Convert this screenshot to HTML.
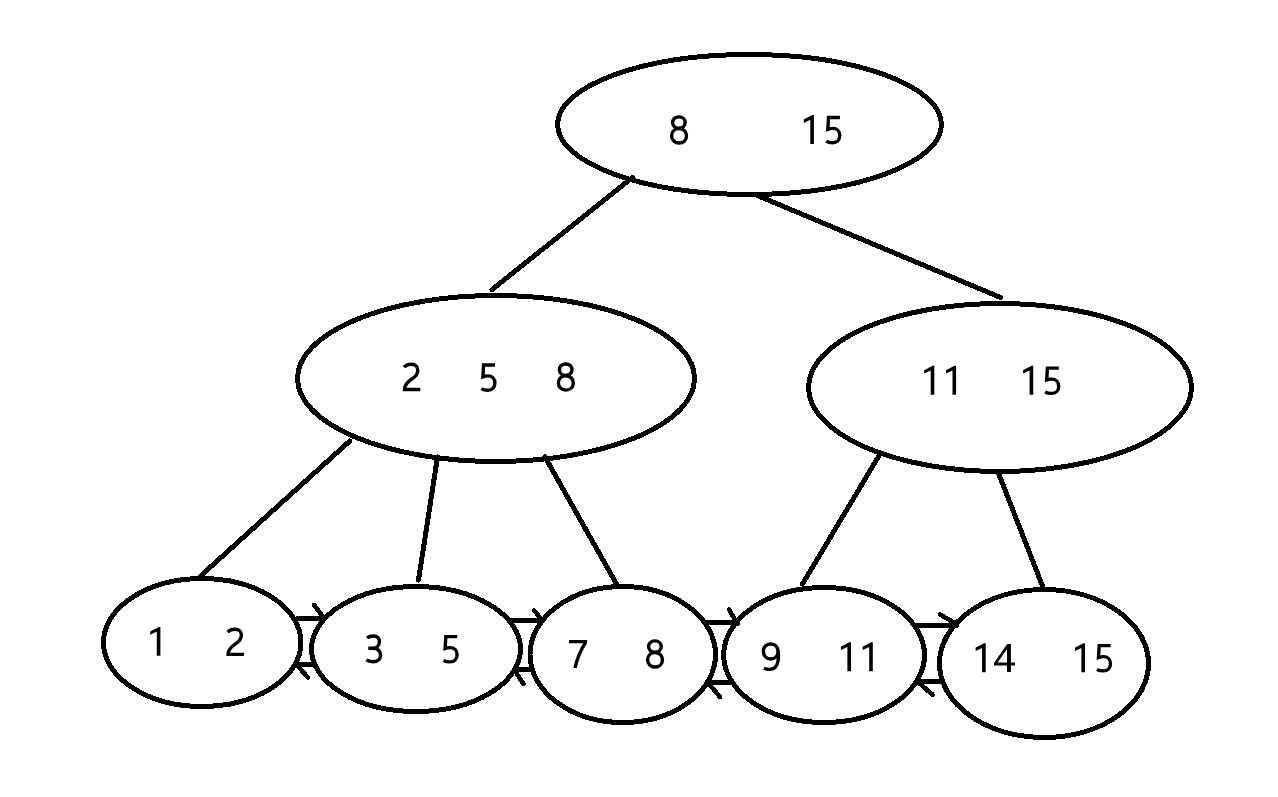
<!DOCTYPE html>
<html><head><meta charset="utf-8"><title>B+ tree</title><style>
html,body{margin:0;padding:0;background:#fff;overflow:hidden;}
svg{display:block;}
</style></head><body>
<svg width="1278" height="797" viewBox="0 0 1278 797">
<rect width="1278" height="797" fill="#fff"/>
<ellipse cx="749.50" cy="124.50" rx="192.00" ry="70.00" fill="none" stroke="#000" stroke-width="5" shape-rendering="crispEdges"/>
<ellipse cx="496.00" cy="378.50" rx="198.50" ry="83.00" fill="none" stroke="#000" stroke-width="5" shape-rendering="crispEdges"/>
<ellipse cx="1000.00" cy="387.50" rx="191.50" ry="84.00" fill="none" stroke="#000" stroke-width="5" shape-rendering="crispEdges"/>
<ellipse cx="202.25" cy="642.50" rx="98.75" ry="64.00" fill="none" stroke="#000" stroke-width="5" shape-rendering="crispEdges"/>
<ellipse cx="416.00" cy="649.00" rx="104.50" ry="62.50" fill="none" stroke="#000" stroke-width="5" shape-rendering="crispEdges"/>
<ellipse cx="622.75" cy="654.50" rx="92.75" ry="68.00" fill="none" stroke="#000" stroke-width="5" shape-rendering="crispEdges"/>
<ellipse cx="824.10" cy="655.00" rx="100.40" ry="67.50" fill="none" stroke="#000" stroke-width="5" shape-rendering="crispEdges"/>
<ellipse cx="1044.00" cy="663.50" rx="104.50" ry="74.00" fill="none" stroke="#000" stroke-width="5" shape-rendering="crispEdges"/>
<line x1="632.5" y1="177.5" x2="492" y2="289.6" stroke="#000" stroke-width="5" stroke-linecap="round" shape-rendering="crispEdges"/>
<line x1="755" y1="194.5" x2="1000.5" y2="297.5" stroke="#000" stroke-width="5" stroke-linecap="round" shape-rendering="crispEdges"/>
<line x1="349.8" y1="441" x2="200.5" y2="576" stroke="#000" stroke-width="5" stroke-linecap="round" shape-rendering="crispEdges"/>
<line x1="437.5" y1="457" x2="418.5" y2="580" stroke="#000" stroke-width="5" stroke-linecap="round" shape-rendering="crispEdges"/>
<line x1="545" y1="457" x2="616.5" y2="584" stroke="#000" stroke-width="5" stroke-linecap="round" shape-rendering="crispEdges"/>
<line x1="880" y1="454" x2="802.5" y2="584" stroke="#000" stroke-width="5" stroke-linecap="round" shape-rendering="crispEdges"/>
<line x1="998" y1="472" x2="1042.5" y2="586" stroke="#000" stroke-width="5" stroke-linecap="round" shape-rendering="crispEdges"/>
<line x1="296.7" y1="618.5" x2="323" y2="618.5" stroke="#000" stroke-width="4.6" stroke-linecap="round" shape-rendering="crispEdges"/>
<line x1="314" y1="605" x2="323.5" y2="617.5" stroke="#000" stroke-width="4.6" stroke-linecap="round" shape-rendering="crispEdges"/>
<line x1="295" y1="664.5" x2="314" y2="664.5" stroke="#000" stroke-width="4.6" stroke-linecap="round" shape-rendering="crispEdges"/>
<line x1="296.3" y1="664.5" x2="308" y2="677.5" stroke="#000" stroke-width="4.6" stroke-linecap="round" shape-rendering="crispEdges"/>
<line x1="510" y1="620.5" x2="543" y2="620.5" stroke="#000" stroke-width="4.6" stroke-linecap="round" shape-rendering="crispEdges"/>
<line x1="534.3" y1="610.5" x2="542.6" y2="621" stroke="#000" stroke-width="4.6" stroke-linecap="round" shape-rendering="crispEdges"/>
<line x1="514.5" y1="669.4" x2="530.7" y2="669.4" stroke="#000" stroke-width="4.6" stroke-linecap="round" shape-rendering="crispEdges"/>
<line x1="514" y1="669.4" x2="523.5" y2="684" stroke="#000" stroke-width="4.6" stroke-linecap="round" shape-rendering="crispEdges"/>
<line x1="704.8" y1="622.5" x2="737.5" y2="622.5" stroke="#000" stroke-width="4.6" stroke-linecap="round" shape-rendering="crispEdges"/>
<line x1="729" y1="609.5" x2="737.5" y2="624" stroke="#000" stroke-width="4.6" stroke-linecap="round" shape-rendering="crispEdges"/>
<line x1="708" y1="682.4" x2="730.7" y2="682.4" stroke="#000" stroke-width="4.6" stroke-linecap="round" shape-rendering="crispEdges"/>
<line x1="707.9" y1="682.4" x2="720" y2="697" stroke="#000" stroke-width="4.6" stroke-linecap="round" shape-rendering="crispEdges"/>
<line x1="914.5" y1="625.4" x2="957" y2="625.4" stroke="#000" stroke-width="4.6" stroke-linecap="round" shape-rendering="crispEdges"/>
<line x1="940" y1="614.5" x2="955" y2="623" stroke="#000" stroke-width="4.6" stroke-linecap="round" shape-rendering="crispEdges"/>
<line x1="917" y1="681.7" x2="941" y2="681.7" stroke="#000" stroke-width="4.6" stroke-linecap="round" shape-rendering="crispEdges"/>
<line x1="917.5" y1="681.7" x2="932.7" y2="694.8" stroke="#000" stroke-width="4.6" stroke-linecap="round" shape-rendering="crispEdges"/>
<g role="img" aria-label="8"><title>8</title>
<path transform="translate(670,115.3)" d="M8.9 1.6 C12.6 1.6 15.2 3.9 15.2 7.3 C15.2 10.7 12.6 13.0 8.9 13.0 C5.2 13.0 2.6 10.7 2.6 7.3 C2.6 3.9 5.2 1.6 8.9 1.6 Z M9.05 13.3 C13.3 13.3 16.5 16.3 16.5 20.5 C16.5 24.7 13.3 27.7 9.05 27.7 C4.8 27.7 1.6 24.7 1.6 20.5 C1.6 16.3 4.8 13.3 9.05 13.3 Z" fill="none" stroke="#000" stroke-width="3.4" stroke-miterlimit="10"/>
</g>
<g role="img" aria-label="15"><title>15</title>
<path transform="translate(803.7,115.1)" d="M8.6 0 L10.2 0 L10.2 28.9 L6.6 28.9 L6.6 4.7 L0.2 7.8 L0 4.5 Z" fill="#000" fill-rule="evenodd"/>
<path transform="translate(825.3,115.1)" d="M14.6 2.35 L3.2 2.35 L2.5 14.2 C4.0 13.6 5.6 13.3 7.4 13.3 C11.8 13.3 14.5 16.2 14.5 20.4 C14.5 24.9 11.5 27.6 7.3 27.6 C4.8 27.6 2.6 27.0 0.9 26.1" fill="none" stroke="#000" stroke-width="3.4" stroke-miterlimit="10"/>
</g>
<g role="img" aria-label="2"><title>2</title>
<path transform="translate(402.7,362.6)" d="M1.3 4.6 C3.2 2.6 5.8 1.7 8.7 1.7 C12.7 1.7 15.1 4.3 15.1 7.8 C15.1 11.4 12.9 13.9 9.2 16.4 C4.0 19.9 1.7 22.6 1.7 26.9 L17.6 26.9" fill="none" stroke="#000" stroke-width="3.4" stroke-miterlimit="10"/>
</g>
<g role="img" aria-label="5"><title>5</title>
<path transform="translate(480.4,362.6)" d="M14.6 2.35 L3.2 2.35 L2.5 14.2 C4.0 13.6 5.6 13.3 7.4 13.3 C11.8 13.3 14.5 16.2 14.5 20.4 C14.5 24.9 11.5 27.6 7.3 27.6 C4.8 27.6 2.6 27.0 0.9 26.1" fill="none" stroke="#000" stroke-width="3.4" stroke-miterlimit="10"/>
</g>
<g role="img" aria-label="8"><title>8</title>
<path transform="translate(556.8,362.4)" d="M8.9 1.6 C12.6 1.6 15.2 3.9 15.2 7.3 C15.2 10.7 12.6 13.0 8.9 13.0 C5.2 13.0 2.6 10.7 2.6 7.3 C2.6 3.9 5.2 1.6 8.9 1.6 Z M9.05 13.3 C13.3 13.3 16.5 16.3 16.5 20.5 C16.5 24.7 13.3 27.7 9.05 27.7 C4.8 27.7 1.6 24.7 1.6 20.5 C1.6 16.3 4.8 13.3 9.05 13.3 Z" fill="none" stroke="#000" stroke-width="3.4" stroke-miterlimit="10"/>
</g>
<g role="img" aria-label="11"><title>11</title>
<path transform="translate(924.1,365.8)" d="M8.6 0 L10.2 0 L10.2 28.9 L6.6 28.9 L6.6 4.7 L0.2 7.8 L0 4.5 Z" fill="#000" fill-rule="evenodd"/>
<path transform="translate(945.9,365.8)" d="M8.6 0 L10.2 0 L10.2 28.9 L6.6 28.9 L6.6 4.7 L0.2 7.8 L0 4.5 Z" fill="#000" fill-rule="evenodd"/>
</g>
<g role="img" aria-label="15"><title>15</title>
<path transform="translate(1023,365.8)" d="M8.6 0 L10.2 0 L10.2 28.9 L6.6 28.9 L6.6 4.7 L0.2 7.8 L0 4.5 Z" fill="#000" fill-rule="evenodd"/>
<path transform="translate(1044.2,365.8)" d="M14.6 2.35 L3.2 2.35 L2.5 14.2 C4.0 13.6 5.6 13.3 7.4 13.3 C11.8 13.3 14.5 16.2 14.5 20.4 C14.5 24.9 11.5 27.6 7.3 27.6 C4.8 27.6 2.6 27.0 0.9 26.1" fill="none" stroke="#000" stroke-width="3.4" stroke-miterlimit="10"/>
</g>
<g role="img" aria-label="1"><title>1</title>
<path transform="translate(150.2,626.9)" d="M8.6 0 L10.2 0 L10.2 28.9 L6.6 28.9 L6.6 4.7 L0.2 7.8 L0 4.5 Z" fill="#000" fill-rule="evenodd"/>
</g>
<g role="img" aria-label="2"><title>2</title>
<path transform="translate(226.3,627.5)" d="M1.3 4.6 C3.2 2.6 5.8 1.7 8.7 1.7 C12.7 1.7 15.1 4.3 15.1 7.8 C15.1 11.4 12.9 13.9 9.2 16.4 C4.0 19.9 1.7 22.6 1.7 26.9 L17.6 26.9" fill="none" stroke="#000" stroke-width="3.4" stroke-miterlimit="10"/>
</g>
<g role="img" aria-label="3"><title>3</title>
<path transform="translate(365.5,634.3)" d="M1.5 3.6 C3.3 2.3 5.6 1.7 8.0 1.7 C11.7 1.7 13.9 3.9 13.9 7.3 C13.9 11.2 11.2 14.0 7.2 14.0 L2.8 14.0 M7.2 14.0 C12.0 14.0 15.1 16.6 15.1 20.6 C15.1 24.9 11.9 27.4 7.4 27.4 C4.9 27.4 2.6 26.8 0.9 25.6" fill="none" stroke="#000" stroke-width="3.4" stroke-miterlimit="10"/>
</g>
<g role="img" aria-label="5"><title>5</title>
<path transform="translate(442.6,634.3)" d="M14.6 2.35 L3.2 2.35 L2.5 14.2 C4.0 13.6 5.6 13.3 7.4 13.3 C11.8 13.3 14.5 16.2 14.5 20.4 C14.5 24.9 11.5 27.6 7.3 27.6 C4.8 27.6 2.6 27.0 0.9 26.1" fill="none" stroke="#000" stroke-width="3.4" stroke-miterlimit="10"/>
</g>
<g role="img" aria-label="7"><title>7</title>
<path transform="translate(569,640)" d="M0 1.65 L18.1 1.65 M16.9 1.9 C12.5 8.7 8.4 17 6.0 28" fill="none" stroke="#000" stroke-width="3.4" stroke-miterlimit="10"/>
</g>
<g role="img" aria-label="8"><title>8</title>
<path transform="translate(646,639.3)" d="M8.9 1.6 C12.6 1.6 15.2 3.9 15.2 7.3 C15.2 10.7 12.6 13.0 8.9 13.0 C5.2 13.0 2.6 10.7 2.6 7.3 C2.6 3.9 5.2 1.6 8.9 1.6 Z M9.05 13.3 C13.3 13.3 16.5 16.3 16.5 20.5 C16.5 24.7 13.3 27.7 9.05 27.7 C4.8 27.7 1.6 24.7 1.6 20.5 C1.6 16.3 4.8 13.3 9.05 13.3 Z" fill="none" stroke="#000" stroke-width="3.4" stroke-miterlimit="10"/>
</g>
<g role="img" aria-label="9"><title>9</title>
<path transform="translate(761.8,642.3)" d="M8.9 1.65 C13.1 1.65 16.2 4.7 16.2 9.15 C16.2 13.6 13.1 16.65 8.9 16.65 C4.7 16.65 1.6 13.6 1.6 9.15 C1.6 4.7 4.7 1.65 8.9 1.65 Z M16.2 8.5 C16.8 12 16.8 15.5 16.3 18.5 C15.4 24.3 12.2 27.1 7.5 27.1 C5.6 27.1 3.9 26.7 2.2 26.0" fill="none" stroke="#000" stroke-width="3.4" stroke-miterlimit="10"/>
</g>
<g role="img" aria-label="11"><title>11</title>
<path transform="translate(840.8,642.3)" d="M8.6 0 L10.2 0 L10.2 28.9 L6.6 28.9 L6.6 4.7 L0.2 7.8 L0 4.5 Z" fill="#000" fill-rule="evenodd"/>
<path transform="translate(862.6,642.3)" d="M8.6 0 L10.2 0 L10.2 28.9 L6.6 28.9 L6.6 4.7 L0.2 7.8 L0 4.5 Z" fill="#000" fill-rule="evenodd"/>
</g>
<g role="img" aria-label="14"><title>14</title>
<path transform="translate(975.5,643.3)" d="M8.6 0 L10.2 0 L10.2 28.9 L6.6 28.9 L6.6 4.7 L0.2 7.8 L0 4.5 Z" fill="#000" fill-rule="evenodd"/>
<path transform="translate(994,643.3)" d="M13.2 0.7 L16.9 0.7 L16.9 19.3 L21 19.3 L21 22.3 L16.9 22.3 L16.9 28.7 L13 28.7 L13 22.3 L0 22.3 L0 19.6 Z M13 5.6 L13 19.3 L3.7 19.3 Z" fill="#000" fill-rule="evenodd"/>
</g>
<g role="img" aria-label="15"><title>15</title>
<path transform="translate(1074.8,643.3)" d="M8.6 0 L10.2 0 L10.2 28.9 L6.6 28.9 L6.6 4.7 L0.2 7.8 L0 4.5 Z" fill="#000" fill-rule="evenodd"/>
<path transform="translate(1096,643.3)" d="M14.6 2.35 L3.2 2.35 L2.5 14.2 C4.0 13.6 5.6 13.3 7.4 13.3 C11.8 13.3 14.5 16.2 14.5 20.4 C14.5 24.9 11.5 27.6 7.3 27.6 C4.8 27.6 2.6 27.0 0.9 26.1" fill="none" stroke="#000" stroke-width="3.4" stroke-miterlimit="10"/>
</g>
</svg>
</body></html>
